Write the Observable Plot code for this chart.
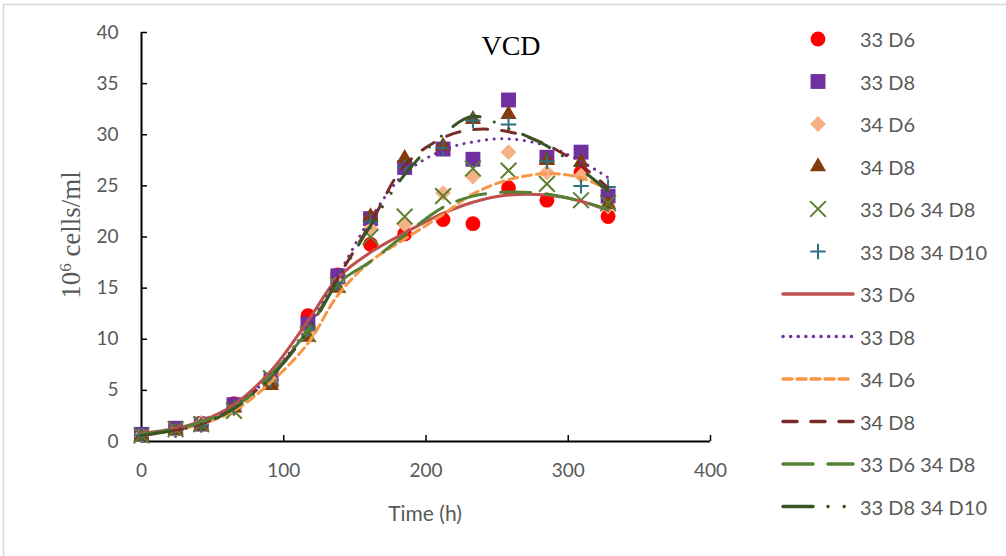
<!DOCTYPE html>
<html><head><meta charset="utf-8">
<script src="https://cdn.jsdelivr.net/npm/d3@7"></script>
<script src="https://cdn.jsdelivr.net/npm/@observablehq/plot@0.6"></script>
<style>
body{margin:0;background:#fff;}
#wrap{position:relative;width:1006px;height:556px;overflow:hidden;background:#fff;}
#wrap > svg{position:absolute;left:0;top:0;}
</style></head><body><div id="wrap"></div>
<script>
// ---- data ----
const times = [0, 24, 42, 65, 91, 117, 138, 161, 185, 212, 233, 258, 285, 309, 328];
const seriesNames = ["33 D6", "33 D8", "34 D6", "34 D8", "33 D6 34 D8", "33 D8 34 D10"];

// observed points
const obs33D6      = [0.7, 1.2, 1.8, 3.7, 6.0, 12.3, 16.3, 19.3, 20.3, 21.7, 21.3, 24.8, 23.6, 26.3, 22.0];
const obs33D8      = [0.7, 1.3, 1.7, 3.6, 6.0, 11.5, 16.2, 21.8, 26.8, 28.6, 27.6, 33.4, 27.8, 28.3, 24.0];
const obs34D6      = [0.6, 1.1, 1.8, 3.2, 6.0, 10.5, 15.5, 20.8, 21.2, 24.3, 25.9, 28.3, 26.3, 26.0, 23.0];
const obs34D8      = [0.5, 1.1, 1.5, 3.3, 5.5, 10.2, 15.0, 22.0, 27.7, 28.9, 31.5, 32.0, 27.5, 27.3, 23.2];
const obs33D6_34D8 = [0.6, 1.2, 1.7, 3.0, 6.2, 10.5, 15.3, 20.0, 22.0, 24.0, 26.7, 26.5, 25.2, 23.6, 23.3];
const obs33D8_34D10= [0.6, 1.1, 1.6, 3.3, 6.0, 11.0, 15.5, 21.5, 26.8, 28.7, 31.4, 31.0, 27.4, 25.0, 24.9];

// fitted curves (read at the same times)
const fit33D6      = [0.8, 1.3, 2.0, 3.6, 6.9, 11.8, 16.0, 18.5, 20.4, 22.3, 23.4, 24.1, 24.1, 23.5, 22.6];
const fit33D8      = [0.7, 1.2, 1.8, 3.4, 6.5, 11.2, 16.2, 21.8, 26.2, 28.5, 29.3, 29.6, 28.9, 27.4, 25.8];
const fit34D6      = [0.6, 1.1, 1.7, 3.0, 5.8, 9.6, 14.3, 17.6, 19.8, 22.2, 24.2, 25.6, 26.2, 25.8, 24.6];
const fit34D8      = [0.6, 1.1, 1.7, 3.3, 6.4, 10.9, 16.0, 21.3, 27.0, 29.7, 30.5, 30.3, 29.0, 27.0, 24.8];
const fit33D6_34D8 = [0.7, 1.2, 1.9, 3.3, 6.5, 10.9, 15.4, 17.6, 20.2, 22.9, 24.0, 24.4, 24.2, 23.5, 22.7];
const fit33D8_34D10= [0.6, 1.1, 1.7, 3.2, 6.3, 10.8, 15.8, 21.1, 26.1, 30.0, 31.8, 30.6, 28.9, 26.6, 24.5];

const xTicks = [0, 100, 200, 300, 400];
const yTicks = [0, 5, 10, 15, 20, 25, 30, 35, 40];

// ---- styles ----
const obsList = [obs33D6, obs33D8, obs34D6, obs34D8, obs33D6_34D8, obs33D8_34D10];
const fitList = [fit33D6, fit33D8, fit34D6, fit34D8, fit33D6_34D8, fit33D8_34D10];
const markerSymbols = ["circle", "square", "diamond2", "triangle", "times", "plus"];
const markerColors = ["#FF0000", "#7030A0", "#F4B183", "#843C0C", "#5B7F2E", "#2E6F80"];
const markerR = [7.4, 8.4, 7.1, 6.0, 7.2, 5.0];
const lineColors = ["#C0504D", "#7030A0", "#F79646", "#772C2A", "#538135", "#375623"];
const lineDash = [null, "0.1 7.5", "9 5", "14 14", "30 15", "30 15 0.1 16 0.1 15"];

const W = 1006, H = 556, mL = 141, mR = 296, mT = 32, mB = 115;
const plotW = W - mL - mR, plotH = H - mT - mB;

const marks = [
  Plot.gridX(xTicks.slice(1), {stroke: "black", strokeOpacity: 1, strokeWidth: 1.5, insetTop: plotH - 6}),
  Plot.gridY(yTicks.slice(1), {stroke: "black", strokeOpacity: 1, strokeWidth: 1.5, insetRight: plotW - 6}),
  Plot.ruleY([0], {stroke: "black", strokeWidth: 2}),
  Plot.ruleX([0], {stroke: "black", strokeWidth: 2}),
  Plot.axisX({ticks: xTicks, tickSize: 0, tickPadding: 22, label: null, tickFormat: d => String(d)}),
  Plot.axisY({ticks: yTicks, tickSize: 0, tickPadding: 23, label: null, tickFormat: d => String(d)})
];
obsList.forEach((vals, i) => {
  const data = times.map((t, j) => ({t, v: vals[j], s: seriesNames[i]}));
  const stroked = markerSymbols[i] === "times" || markerSymbols[i] === "plus";
  marks.push(Plot.dot(data, {
    x: "t", y: "v", symbol: markerSymbols[i], r: markerR[i],
    fill: stroked ? "none" : markerColors[i],
    stroke: stroked ? markerColors[i] : "none",
    strokeWidth: stroked ? 2 : 0
  }));
});
fitList.forEach((vals, i) => {
  const data = times.map((t, j) => ({t, v: vals[j], s: seriesNames[i]}));
  marks.push(Plot.line(data, {
    x: "t", y: "v", stroke: lineColors[i], strokeWidth: 3,
    strokeDasharray: lineDash[i], strokeLinecap: "round", curve: "catmull-rom"
  }));
});

const chart = Plot.plot({
  width: W, height: H, marginLeft: mL, marginRight: mR, marginTop: mT, marginBottom: mB,
  x: {domain: [0, 400]}, y: {domain: [0, 40]},
  style: {fontFamily: "Lato", fontSize: "19px", color: "#595959", background: "transparent", overflow: "visible"},
  marks
});
document.getElementById("wrap").appendChild(chart);

// ---- overlay: border, titles, legend ----
const svg = d3.select("#wrap").append("svg").attr("width", W).attr("height", H)
  .style("pointer-events", "none");
svg.append("rect").attr("x", 3.5).attr("y", 4.5).attr("width", W + 10).attr("height", H + 10)
  .attr("fill", "none").attr("stroke", "#D9D9D9").attr("stroke-width", 1.5);

svg.append("text").attr("x", 511).attr("y", 55).attr("text-anchor", "middle")
  .style("font-family", "Liberation Serif").style("font-size", "28px").attr("fill", "#000")
  .text("VCD");

const yl = svg.append("text").attr("transform", "translate(80,235) rotate(-90)")
  .attr("text-anchor", "middle")
  .style("font-family", "Liberation Serif").style("font-size", "27px").attr("fill", "#595959");
yl.append("tspan").text("10");
yl.append("tspan").attr("baseline-shift", "super").style("font-size", "17px").text("6");
yl.append("tspan").text(" cells/ml");

svg.append("text").attr("x", 425).attr("y", 512).attr("text-anchor", "middle")
  .attr("dominant-baseline", "central")
  .style("font-family", "Lato").style("font-size", "21px").attr("fill", "#595959")
  .text("Time (h)");

const symMap = {circle: d3.symbolCircle, square: d3.symbolSquare, diamond2: d3.symbolDiamond2,
  triangle: d3.symbolTriangle, times: d3.symbolTimes, plus: d3.symbolPlus};
const rowY = i => 39 + i * 42.5;
seriesNames.forEach((name, i) => {
  const y = rowY(i);
  const stroked = markerSymbols[i] === "times" || markerSymbols[i] === "plus";
  svg.append("path")
    .attr("transform", `translate(818,${y})`)
    .attr("d", d3.symbol(symMap[markerSymbols[i]], Math.PI * markerR[i] * markerR[i])())
    .attr("fill", stroked ? "none" : markerColors[i])
    .attr("stroke", stroked ? markerColors[i] : "none")
    .attr("stroke-width", stroked ? 2 : 0);
  svg.append("text").attr("x", 860).attr("y", y).attr("dominant-baseline", "central")
    .style("font-family", "Lato").style("font-size", "20px").attr("fill", "#595959").text(name);
});
seriesNames.forEach((name, i) => {
  const y = rowY(i + 6);
  svg.append("line").attr("x1", 783).attr("x2", 853).attr("y1", y).attr("y2", y)
    .attr("stroke", lineColors[i]).attr("stroke-width", 3.5).attr("stroke-linecap", "round")
    .attr("stroke-dasharray", lineDash[i]);
  svg.append("text").attr("x", 860).attr("y", y).attr("dominant-baseline", "central")
    .style("font-family", "Lato").style("font-size", "20px").attr("fill", "#595959").text(name);
});
</script></body></html>
